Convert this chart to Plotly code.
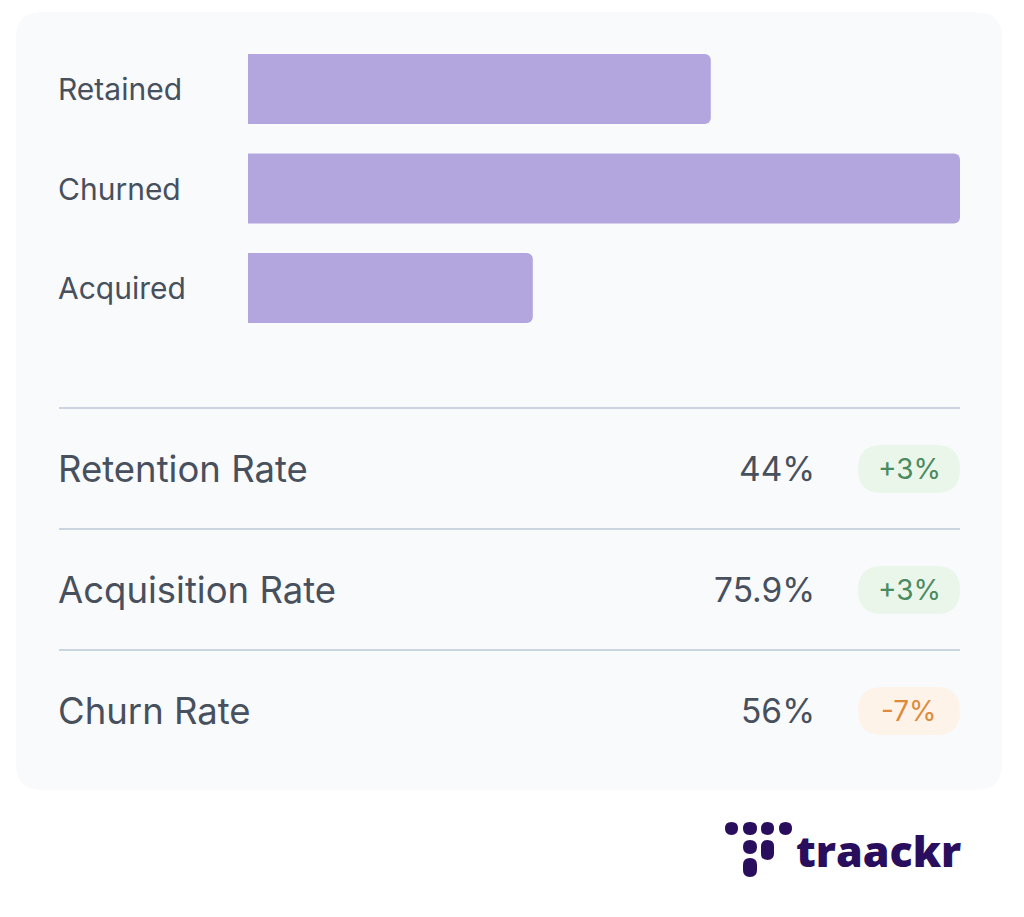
import plotly.graph_objects as go

W, H = 1024, 917

# ---- data ----
categories = ["Retained", "Churned", "Acquired"]
bar_values = [65, 100, 40]

metric_names = ["Retention Rate", "Acquisition Rate", "Churn Rate"]
metric_values = ["44%", "75.9%", "56%"]
metric_changes = ["+3%", "+3%", "-7%"]

# ---- style ----
FONT = "Inter"
TEXT = "#47505C"
BAR = "#B3A6DE"
CARD = "#F8FAFC"
DIV = "#CBD5E1"
POS_BG, POS_FG = "#EAF6EA", "#4A8A61"
NEG_BG, NEG_FG = "#FEF3E8", "#E08A3C"
LOGO = "#2A0E5E"


def px(x):
    return x / W


def py(y):
    return 1 - y / H


def rrect(x0, y0, x1, y1, r):
    """rounded rectangle path (pixel coords -> paper coords)"""
    pts = [
        f"M {px(x0 + r)} {py(y0)}",
        f"L {px(x1 - r)} {py(y0)}",
        f"Q {px(x1)} {py(y0)} {px(x1)} {py(y0 + r)}",
        f"L {px(x1)} {py(y1 - r)}",
        f"Q {px(x1)} {py(y1)} {px(x1 - r)} {py(y1)}",
        f"L {px(x0 + r)} {py(y1)}",
        f"Q {px(x0)} {py(y1)} {px(x0)} {py(y1 - r)}",
        f"L {px(x0)} {py(y0 + r)}",
        f"Q {px(x0)} {py(y0)} {px(x0 + r)} {py(y0)}",
        "Z",
    ]
    return " ".join(pts)


fig = go.Figure()

fig.add_trace(go.Bar(
    y=categories, x=bar_values, orientation="h",
    marker=dict(color=BAR, line=dict(width=0)),
    hoverinfo="skip", showlegend=False,
))

shapes = []
annotations = []

# card background
shapes.append(dict(type="path", xref="paper", yref="paper", layer="below",
                   path=rrect(16, 12, 1002, 790, 26),
                   fillcolor=CARD, line=dict(width=0)))

# bar labels
for c in categories:
    annotations.append(dict(x=px(56), y=c, xref="paper", yref="y",
                            text=c, showarrow=False, xanchor="left", yanchor="middle",
                            font=dict(family=FONT, size=30, color=TEXT)))

# metric rows
div_y = [408, 529, 650]
row_y = [469, 590, 711]
for yy in div_y:
    shapes.append(dict(type="line", xref="paper", yref="paper",
                       x0=px(59), x1=px(960), y0=py(yy), y1=py(yy),
                       line=dict(color=DIV, width=2)))

for i, (name, val, chg) in enumerate(zip(metric_names, metric_values, metric_changes)):
    yc = row_y[i]
    annotations.append(dict(x=px(56), y=py(yc), xref="paper", yref="paper",
                            text=name, showarrow=False, xanchor="left", yanchor="middle",
                            font=dict(family=FONT, size=36.5, color=TEXT)))
    annotations.append(dict(x=px(817), y=py(yc), xref="paper", yref="paper",
                            text=val, showarrow=False, xanchor="right", yanchor="middle",
                            font=dict(family=FONT, size=33.5, color=TEXT)))
    neg = chg.startswith("-")
    bg, fg = (NEG_BG, NEG_FG) if neg else (POS_BG, POS_FG)
    shapes.append(dict(type="path", xref="paper", yref="paper",
                       path=rrect(858, yc - 24, 960, yc + 24, 24),
                       fillcolor=bg, line=dict(width=0)))
    annotations.append(dict(x=px(909), y=py(yc), xref="paper", yref="paper",
                            text=chg, showarrow=False, xanchor="center", yanchor="middle",
                            font=dict(family=FONT, size=28, color=fg)))

# logo dots
dots = [
    (725, 822, 738, 835), (743, 822, 757, 835), (761, 822, 774, 835), (779, 822, 792, 835),
    (743, 840, 757, 854), (761, 840, 774, 860),
    (743, 858, 757, 877),
]
for (a, b, c, d) in dots:
    shapes.append(dict(type="path", xref="paper", yref="paper",
                       path=rrect(a, b, c, d, min(c - a, d - b) / 2 - 0.01),
                       fillcolor=LOGO, line=dict(width=0)))

annotations.append(dict(x=px(794), y=py(850), xref="paper", yref="paper",
                        text="traackr", showarrow=False,
                        xanchor="left", yanchor="middle",
                        font=dict(family="Open Sans", size=43, color=LOGO, weight=800)))

fig.update_layout(
    width=W, height=H,
    margin=dict(l=0, r=0, t=0, b=0),
    paper_bgcolor="white", plot_bgcolor="rgba(0,0,0,0)",
    bargap=0.2965, barcornerradius=6,
    xaxis=dict(domain=[px(248), px(960)], range=[0, 100], visible=False, fixedrange=True),
    yaxis=dict(domain=[py(337.75), py(39.25)], range=[2.5, -0.5],
               categoryorder="array", categoryarray=categories,
               visible=False, fixedrange=True),
    shapes=shapes, annotations=annotations,
    font=dict(family=FONT),
)

fig.write_html("out.html", config=dict(displayModeBar=False))
